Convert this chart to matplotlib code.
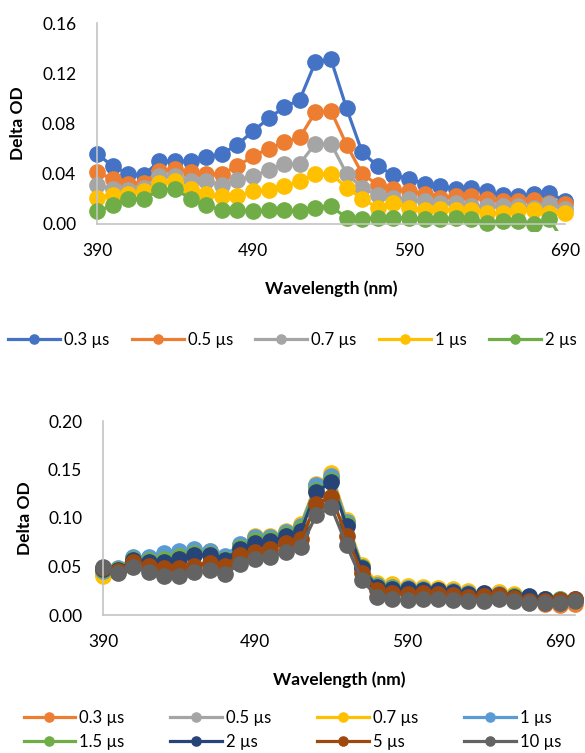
import numpy as np
import matplotlib
matplotlib.use('Agg')
import matplotlib.pyplot as plt
from matplotlib.transforms import Bbox, TransformedBbox

plt.rcParams['font.family'] = ['Lato', 'DejaVu Sans']

# top chart: 390-690 nm, step 10
wl_top = list(range(390, 700, 10))
top_labels = ['0.3 µs', '0.5 µs', '0.7 µs', '1 µs', '2 µs']
top_03 = [0.056, 0.046, 0.040, 0.039, 0.050, 0.050, 0.050, 0.053, 0.056, 0.063, 0.074, 0.084, 0.093, 0.099, 0.129, 0.131,
          0.092, 0.057, 0.046, 0.039, 0.036, 0.032, 0.030, 0.028, 0.029, 0.026, 0.023, 0.022, 0.024, 0.025, 0.018]
top_05 = [0.041, 0.036, 0.032, 0.033, 0.042, 0.044, 0.041, 0.040, 0.040, 0.046, 0.054, 0.060, 0.065, 0.069, 0.089, 0.090,
          0.063, 0.040, 0.031, 0.028, 0.026, 0.024, 0.021, 0.022, 0.022, 0.020, 0.018, 0.018, 0.019, 0.017, 0.016]
top_07 = [0.031, 0.028, 0.027, 0.029, 0.038, 0.038, 0.034, 0.034, 0.031, 0.035, 0.038, 0.043, 0.048, 0.048, 0.064, 0.064,
          0.040, 0.029, 0.023, 0.021, 0.020, 0.018, 0.017, 0.017, 0.014, 0.014, 0.014, 0.014, 0.013, 0.016, 0.012]
top_1 = [0.021, 0.023, 0.024, 0.026, 0.033, 0.034, 0.028, 0.024, 0.022, 0.022, 0.026, 0.027, 0.030, 0.034, 0.040, 0.040,
         0.029, 0.020, 0.013, 0.017, 0.013, 0.011, 0.012, 0.011, 0.011, 0.009, 0.009, 0.011, 0.011, 0.009, 0.009]
top_2 = [0.010, 0.015, 0.020, 0.020, 0.027, 0.028, 0.020, 0.015, 0.011, 0.011, 0.010, 0.011, 0.011, 0.010, 0.013, 0.014,
         0.005, 0.004, 0.005, 0.005, 0.005, 0.004, 0.004, 0.005, 0.004, 0.001, 0.002, 0.002, 0.000, 0.004, -0.016]
top_colors = ['#4472C4', '#ED7D31', '#A5A5A5', '#FFC000', '#70AD47']

# bottom chart: 390-700 nm, step 10
wl_bot = list(range(390, 710, 10))
bot_labels = ['0.3 µs', '0.5 µs', '0.7 µs', '1 µs', '1.5 µs', '2 µs', '5 µs', '10 µs']
bot_03 = [0.042, 0.045, 0.057, 0.056, 0.060, 0.062, 0.065, 0.064, 0.058, 0.070, 0.078, 0.079, 0.085, 0.091, 0.132, 0.141,
          0.094, 0.049, 0.028, 0.026, 0.025, 0.024, 0.023, 0.022, 0.020, 0.019, 0.018, 0.016, 0.013, 0.011, 0.010, 0.011]
bot_05 = [0.044, 0.046, 0.059, 0.058, 0.062, 0.064, 0.066, 0.065, 0.060, 0.071, 0.079, 0.080, 0.085, 0.091, 0.133, 0.142,
          0.095, 0.050, 0.030, 0.028, 0.027, 0.026, 0.025, 0.024, 0.022, 0.021, 0.021, 0.019, 0.017, 0.015, 0.014, 0.014]
bot_07 = [0.040, 0.044, 0.058, 0.057, 0.061, 0.064, 0.067, 0.066, 0.060, 0.072, 0.081, 0.081, 0.087, 0.094, 0.135, 0.146,
          0.098, 0.052, 0.033, 0.032, 0.030, 0.029, 0.028, 0.027, 0.025, 0.023, 0.024, 0.022, 0.018, 0.016, 0.015, 0.014]
bot_1 = [0.045, 0.048, 0.060, 0.060, 0.064, 0.066, 0.068, 0.066, 0.061, 0.073, 0.080, 0.080, 0.086, 0.092, 0.134, 0.143,
         0.096, 0.050, 0.031, 0.029, 0.028, 0.027, 0.026, 0.025, 0.023, 0.022, 0.022, 0.020, 0.019, 0.017, 0.016, 0.015]
bot_15 = [0.046, 0.047, 0.058, 0.057, 0.058, 0.061, 0.064, 0.063, 0.058, 0.070, 0.077, 0.078, 0.083, 0.090, 0.129, 0.139,
          0.094, 0.049, 0.030, 0.028, 0.027, 0.026, 0.025, 0.024, 0.022, 0.022, 0.021, 0.020, 0.019, 0.017, 0.016, 0.015]
bot_2 = [0.047, 0.046, 0.057, 0.055, 0.055, 0.058, 0.062, 0.062, 0.057, 0.068, 0.074, 0.076, 0.081, 0.087, 0.127, 0.137,
         0.092, 0.048, 0.029, 0.027, 0.027, 0.026, 0.026, 0.024, 0.022, 0.023, 0.021, 0.019, 0.020, 0.016, 0.015, 0.016]
bot_5 = [0.048, 0.045, 0.055, 0.051, 0.048, 0.048, 0.051, 0.054, 0.051, 0.062, 0.065, 0.068, 0.074, 0.078, 0.114, 0.122,
         0.081, 0.043, 0.026, 0.023, 0.022, 0.023, 0.022, 0.021, 0.019, 0.020, 0.021, 0.018, 0.014, 0.014, 0.015, 0.016]
bot_10 = [0.049, 0.043, 0.050, 0.044, 0.040, 0.040, 0.044, 0.046, 0.042, 0.053, 0.058, 0.060, 0.065, 0.070, 0.103, 0.111,
          0.072, 0.036, 0.019, 0.016, 0.015, 0.016, 0.016, 0.015, 0.014, 0.014, 0.016, 0.014, 0.012, 0.012, 0.012, 0.014]
bot_colors = ['#ED7D31', '#A5A5A5', '#FFC000', '#5B9BD5', '#70AD47', '#264478', '#9E480E', '#636363']

W, H = 585, 753
fig = plt.figure(figsize=(W / 100, H / 100), dpi=100)


def px_axes(x0, x1, y0, y1):
    # pixel box (top-left origin) -> axes
    return fig.add_axes([x0 / W, 1 - y1 / H, (x1 - x0) / W, (y1 - y0) / H])


def style(ax, ylab_x):
    for s in ['top', 'right']:
        ax.spines[s].set_visible(False)
    for s in ['left', 'bottom']:
        ax.spines[s].set_color('#C4C4C4')
        ax.spines[s].set_linewidth(1.2)
    ax.tick_params(length=0, labelsize=12.5)
    ax.tick_params(axis='x', pad=13.5)
    ax.tick_params(axis='y', pad=15)
    ax.set_xlabel('Wavelength (nm)', fontsize=12.5, fontweight='bold', va='center')
    ax.set_ylabel('Delta OD', fontsize=12.5, fontweight='bold', va='center')
    h_px = ax.get_position().height * H
    w_px = ax.get_position().width * W
    ax.xaxis.set_label_coords(0.5, -65 / h_px)
    ax.yaxis.set_label_coords(-ylab_x / w_px, 0.5)


# ---- top chart
ax1 = px_axes(97, 565, 23, 224)
top_series = [top_03, top_05, top_07, top_1, top_2]
for vals, c, lab in zip(top_series, top_colors, top_labels):
    ln, = ax1.plot(wl_top, vals, color=c, lw=2.3, marker='o', ms=11, label=lab)
    # markers may spill past the frame, but nothing below ~7px under the axis
    ln.set_clip_box(TransformedBbox(Bbox([[-0.1, -0.035], [1.1, 1.2]]), ax1.transAxes))
ax1.set_xlim(390, 690)
ax1.set_ylim(0, 0.16)
ax1.set_xticks([390, 490, 590, 690])
ax1.set_yticks(np.arange(0, 0.161, 0.04))
ax1.yaxis.set_major_formatter(plt.FormatStrFormatter('%.2f'))
style(ax1, 97 - 18)
h, l = ax1.get_legend_handles_labels()
fig.legend(h, l, loc='center', bbox_to_anchor=(0.5, 1 - 340 / H), ncol=5, frameon=False,
           fontsize=12, handlelength=3.1, handletextpad=0.25, columnspacing=1.35, markerscale=0.6)

# ---- bottom chart
ax2 = px_axes(103, 575, 421, 615)
bot_series = [bot_03, bot_05, bot_07, bot_1, bot_15, bot_2, bot_5, bot_10]
for vals, c, lab in zip(bot_series, bot_colors, bot_labels):
    ax2.plot(wl_bot, vals, color=c, lw=2.3, marker='o', ms=11, label=lab, clip_on=False)
ax2.set_xlim(390, 700)
ax2.set_ylim(0, 0.20)
ax2.set_xticks([390, 490, 590, 690])
ax2.set_yticks(np.arange(0, 0.201, 0.05))
ax2.yaxis.set_major_formatter(plt.FormatStrFormatter('%.2f'))
style(ax2, 103 - 25)
h, l = ax2.get_legend_handles_labels()
order = [0, 4, 1, 5, 2, 6, 3, 7]
fig.legend([h[i] for i in order], [l[i] for i in order], loc='center', bbox_to_anchor=(0.5, 1 - 730 / H),
           ncol=4, frameon=False, fontsize=12, handlelength=3.1, handletextpad=0.25, columnspacing=2.75,
           labelspacing=0.45, markerscale=0.6, borderpad=0.2)

fig.savefig('out.png', dpi=100)
